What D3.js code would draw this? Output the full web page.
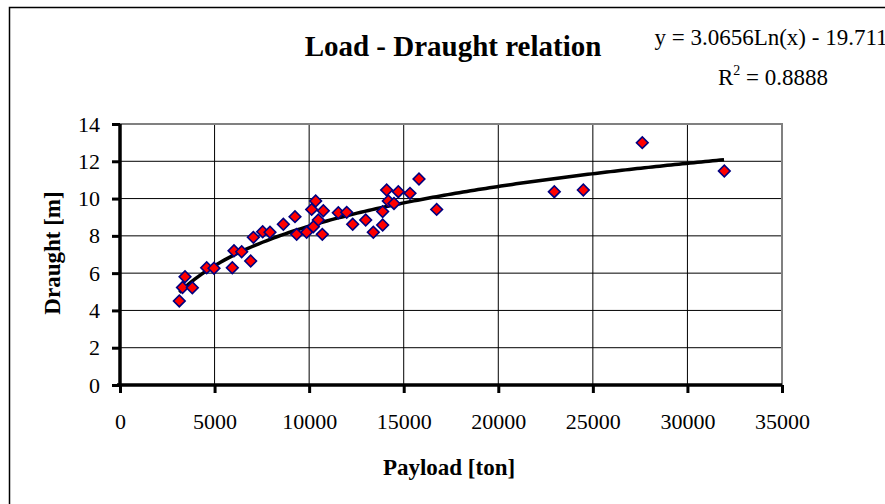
<!DOCTYPE html>
<html>
<head>
<meta charset="utf-8">
<script src="https://cdn.jsdelivr.net/npm/d3@7"></script>
<style>
  body { margin: 0; background: #fff; }
  text { font-family: "Liberation Serif", "Times New Roman", serif; fill: #000; }
</style>
</head>
<body>
<div id="chart"></div>
<script>
// data
var payload = [3136, 3437, 3304, 3824, 4583, 4970, 5938, 6027, 6433, 6909,
               7050, 7543, 7930, 8636, 9252, 9340, 9868, 10133, 10345, 10750,
               10486, 10222, 10697, 11543, 11986, 12303, 12990, 13393, 13887, 13887,
               14098, 14186, 14486, 14714, 15332, 15808, 16743, 22962, 24496, 27614,
               31950];
var draught = [4.51, 5.81, 5.23, 5.22, 6.29, 6.26, 6.29, 7.2, 7.15, 6.65,
               7.92, 8.22, 8.19, 8.62, 9.03, 8.08, 8.19, 9.42, 9.87, 9.35,
               8.85, 8.49, 8.08, 9.24, 9.26, 8.62, 8.85, 8.19, 8.58, 9.3,
               10.46, 9.87, 9.74, 10.37, 10.28, 11.05, 9.42, 10.37, 10.46, 13.0,
               11.48];
var xTicks = [0, 5000, 10000, 15000, 20000, 25000, 30000, 35000];
var yTicks = [0, 2, 4, 6, 8, 10, 12, 14];
// logarithmic trendline as printed on the chart
var trendA = 3.0656, trendB = -19.711;
var equationText = "y = 3.0656Ln(x) - 19.711";
var r2Text = "0.8888";

var W = 885, H = 504;
var plot = { left: 120, right: 782, top: 124, bottom: 385 };

var svg = d3.select("#chart")
            .append("svg")
            .attr("width", W)
            .attr("height", H);

svg.append("rect")
   .attr("width", W).attr("height", H)
   .attr("fill", "#fff");

// outer chart frame (runs off the right and bottom edges)
svg.append("rect")
   .attr("x", 9.5).attr("y", 7.5)
   .attr("width", 920).attr("height", 540)
   .attr("fill", "none")
   .attr("stroke", "#000")
   .attr("stroke-width", 1.5);

var x = d3.scaleLinear().domain([0, 35000]).range([plot.left, plot.right]);
var y = d3.scaleLinear().domain([0, 14]).range([plot.bottom, plot.top]);

// gridlines
svg.append("g")
   .selectAll("line")
   .data(yTicks.slice(1, -1))
   .enter().append("line")
   .attr("x1", plot.left).attr("x2", plot.right)
   .attr("y1", function(d) { return y(d); })
   .attr("y2", function(d) { return y(d); })
   .attr("stroke", "#000").attr("stroke-width", 1);

svg.append("g")
   .selectAll("line")
   .data(xTicks.slice(1, -1))
   .enter().append("line")
   .attr("y1", plot.top).attr("y2", plot.bottom)
   .attr("x1", function(d) { return x(d); })
   .attr("x2", function(d) { return x(d); })
   .attr("stroke", "#000").attr("stroke-width", 1);

// plot area border (top and right are grey)
svg.append("path")
   .attr("d", "M" + plot.left + "," + plot.top + "H" + plot.right + "V" + plot.bottom)
   .attr("fill", "none")
   .attr("stroke", "#808080")
   .attr("stroke-width", 2);

// axes
var xAxis = svg.append("g")
   .attr("transform", "translate(0," + plot.bottom + ")")
   .call(d3.axisBottom(x).tickValues(xTicks).tickSize(8).tickSizeOuter(0).tickPadding(20)
           .tickFormat(d3.format("d")));
var yAxis = svg.append("g")
   .attr("transform", "translate(" + plot.left + ",0)")
   .call(d3.axisLeft(y).tickValues(yTicks).tickSize(8).tickSizeOuter(0).tickPadding(12)
           .tickFormat(d3.format("d")));

[xAxis, yAxis].forEach(function(ax) {
  ax.select(".domain").attr("stroke", "#000").attr("stroke-width", 3.5);
  ax.selectAll(".tick line").attr("stroke", "#000").attr("stroke-width", 3);
  ax.selectAll(".tick text")
    .style("font-family", '"Liberation Serif", "Times New Roman", serif')
    .style("font-size", "22px")
    .attr("fill", "#000");
});
xAxis.select(".domain").attr("d", "M" + (plot.left - 3) + ",0H" + plot.right);
yAxis.select(".domain").attr("d", "M0," + plot.top + "V" + (plot.bottom + 1));

// trendline
var xs = d3.range(d3.min(payload), d3.max(payload) + 1, 200);
var trend = d3.line()
  .x(function(d) { return x(d); })
  .y(function(d) { return y(trendA * Math.log(d) + trendB); });

svg.append("path")
   .datum(xs)
   .attr("d", trend)
   .attr("fill", "none")
   .attr("stroke", "#000")
   .attr("stroke-width", 3.5);

// points
var diamond = d3.symbol().type(d3.symbolSquare).size(68);
svg.append("g")
   .selectAll("path")
   .data(payload)
   .enter().append("path")
   .attr("d", diamond)
   .attr("transform", function(d, i) {
      return "translate(" + x(d) + "," + y(draught[i]) + ") rotate(45)";
   })
   .attr("fill", "#ff0000")
   .attr("stroke", "#000080")
   .attr("stroke-width", 1.6);

// titles
svg.append("text")
   .attr("x", 453).attr("y", 56)
   .attr("text-anchor", "middle")
   .style("font-size", "29px").style("font-weight", "bold")
   .text("Load - Draught relation");

svg.append("text")
   .attr("x", 449).attr("y", 475)
   .attr("text-anchor", "middle")
   .style("font-size", "23px").style("font-weight", "bold")
   .text("Payload [ton]");

svg.append("text")
   .attr("transform", "translate(60,253) rotate(-90)")
   .attr("text-anchor", "middle")
   .style("font-size", "23px").style("font-weight", "bold")
   .text("Draught [m]");

// equation
svg.append("text")
   .attr("x", 771).attr("y", 45)
   .attr("text-anchor", "middle")
   .style("font-size", "23px")
   .text(equationText);

var r2 = svg.append("text")
   .attr("x", 773).attr("y", 85)
   .attr("text-anchor", "middle")
   .style("font-size", "23px");
r2.append("tspan").text("R");
r2.append("tspan").attr("dy", -10).style("font-size", "14px").text("2");
r2.append("tspan").attr("dy", 10).text(" = " + r2Text);
</script>
</body>
</html>
